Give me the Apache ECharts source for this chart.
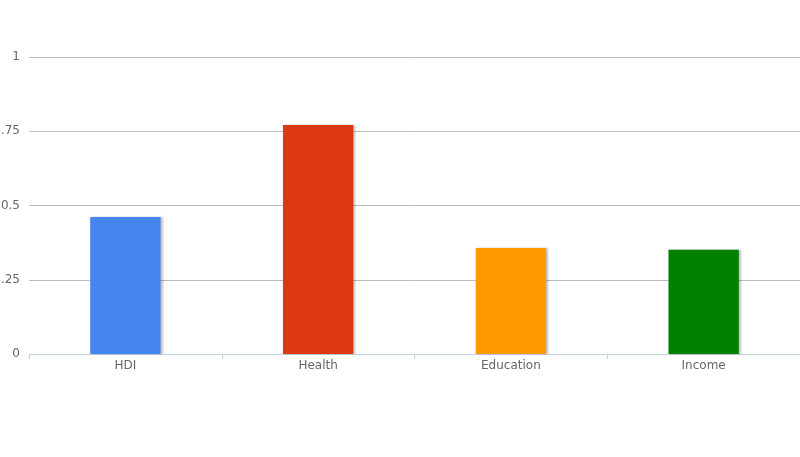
<!DOCTYPE html>
<html><head><meta charset="utf-8">
<script src="https://cdn.jsdelivr.net/npm/echarts@6/dist/echarts.min.js"></script>
<style>html,body{margin:0;padding:0;background:#fff}#c{width:800px;height:457px}</style>
</head><body><div id="c"></div>
<script>
const categories = ['HDI', 'Health', 'Education', 'Income'];
const values = [0.461, 0.771, 0.357, 0.351];
const barColors = ['#4684ee', '#dc3912', '#ff9900', '#008000'];
const yTicks = [0, 0.25, 0.5, 0.75, 1];

const chart = echarts.init(document.getElementById('c'));
chart.setOption({
  animation: false,
  grid: { left: 29, right: 0, top: 57, bottom: 103, containLabel: false, outerBoundsMode: 'none' },
  xAxis: {
    type: 'category',
    data: categories,
    axisLine: { lineStyle: { color: '#c3d1e0', width: 1 } },
    axisTick: { show: true, length: 5, lineStyle: { color: '#c3d1e0' } },
    axisLabel: { color: '#666', fontFamily: 'DejaVu Sans', fontSize: 12, margin: 6 }
  },
  yAxis: {
    type: 'value', min: 0, max: 1, interval: 0.25,
    axisLine: { show: false }, axisTick: { show: false },
    splitLine: { lineStyle: { color: '#bbbbbb', width: 1 } },
    axisLabel: { color: '#666', fontFamily: 'DejaVu Sans', fontSize: 12, margin: 9,
      formatter: v => String(yTicks.find(t => Math.abs(t - v) < 1e-9) ?? v) }
  },
  series: [{
    type: 'bar',
    data: values.map((v, i) => ({ value: v, itemStyle: { color: barColors[i] } })),
    barWidth: '36.5%',
    itemStyle: { shadowColor: 'rgba(0,0,0,0.25)', shadowOffsetX: 2, shadowOffsetY: 0, shadowBlur: 2 }
  }]
});
</script></body></html>
